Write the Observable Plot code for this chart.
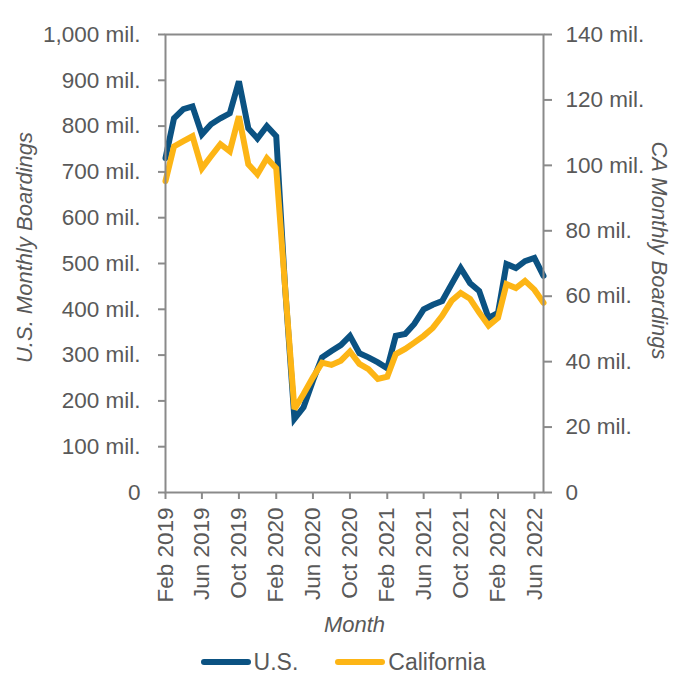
<!DOCTYPE html>
<html><head><meta charset="utf-8">
<script src="https://cdn.jsdelivr.net/npm/d3@7"></script>
<script src="https://cdn.jsdelivr.net/npm/@observablehq/plot@0.6"></script>
<style>
body{margin:0;background:#fff;font-family:"Liberation Sans",Arial,sans-serif;}
#legend{display:flex;justify-content:center;align-items:center;height:30px;margin-top:2px;font-size:23px;color:#595959;}
.item{display:flex;align-items:center;}
.sw{width:50px;height:6px;border-radius:3px;margin-right:3px;}
</style></head><body>
<div id="chart"></div>
<div id="legend"></div>
<script>
// Months Feb 2019 .. Jul 2022 (categories)
const monthLabels = ["2019-02","2019-03","2019-04","2019-05","2019-06","2019-07","2019-08","2019-09","2019-10","2019-11","2019-12",
  "2020-01","2020-02","2020-03","2020-04","2020-05","2020-06","2020-07","2020-08","2020-09","2020-10","2020-11","2020-12",
  "2021-01","2021-02","2021-03","2021-04","2021-05","2021-06","2021-07","2021-08","2021-09","2021-10","2021-11","2021-12",
  "2022-01","2022-02","2022-03","2022-04","2022-05","2022-06","2022-07"];
// U.S. monthly boardings (millions)
const usBoardings = [730,817,837,843,782,804,817,828,898,795,773,
  800,778,450,161,186,244,295,309,322,342,304,295,
  284,271,342,346,368,400,410,418,455,490,457,440,
  381,392,499,490,505,512,473];
// California monthly boardings (millions)
const caBoardings = [95.2,105.8,107.4,108.9,99.1,102.8,106.5,104.3,115.0,100.3,97.3,
  102.2,99.1,63,25.5,30.1,35.2,39.7,39.0,40.3,43.1,39.3,37.7,
  34.7,35.4,42.3,43.9,45.8,47.9,50.3,54.0,58.6,61.0,59.2,55.0,
  51.0,53.4,63.7,62.5,64.7,62.0,58.0];
const leftTicks = [0,100,200,300,400,500,600,700,800,900,1000];
const rightTicks = [0,20,40,60,80,100,120,140];
const xTickLabels = ["2019-02","2019-06","2019-10","2020-02","2020-06","2020-10","2021-02","2021-06","2021-10","2022-02","2022-06"];
const seriesNames = ["U.S.","California"];
const seriesColors = ["#0b5282","#fdb515"];
const leftTitle = "U.S. Monthly Boardings";
const rightTitle = "CA Monthly Boardings";
const xTitle = "Month";

const parse = d3.utcParse("%Y-%m");
const leftMax = 1000, rightMax = 140;
const k = leftMax / rightMax;
const data = monthLabels.map((m, i) => ({date: parse(m), us: usBoardings[i], ca: caBoardings[i] * k}));
const fmt = v => v === 0 ? "0" : d3.format(",")(v) + " mil.";
const axisGray = "#8a8a8a";
const textGray = "#595959";

const chart = Plot.plot({
  width: 686,
  height: 645,
  marginTop: 34,
  marginBottom: 153,
  marginLeft: 165,
  marginRight: 143,
  style: {fontFamily: "'Liberation Sans', Arial, sans-serif", fontSize: "22.5px", color: textGray, background: "#fff"},
  x: {type: "utc", domain: [parse(monthLabels[0]), parse(monthLabels[monthLabels.length - 1])]},
  y: {domain: [0, leftMax]},
  marks: [
    Plot.line(data, {x: "date", y: "us", stroke: seriesColors[0], strokeWidth: 6, strokeLinejoin: "miter", strokeMiterlimit: 3}),
    Plot.line(data, {x: "date", y: "ca", stroke: seriesColors[1], strokeWidth: 6, strokeLinejoin: "miter", strokeMiterlimit: 3}),
    Plot.frame({stroke: axisGray, strokeWidth: 2}),
    Plot.axisY(leftTicks, {anchor: "left", tickSize: 7, tickPadding: 18, tickFormat: fmt, stroke: axisGray, strokeWidth: 2, fill: textGray, label: null}),
    Plot.axisY(rightTicks.map(v => v * k), {anchor: "right", tickSize: 8, tickPadding: 14, tickFormat: d => fmt(Math.round(d / k)), stroke: axisGray, strokeWidth: 2, fill: textGray, label: null}),
    Plot.axisX(xTickLabels.map(parse), {anchor: "bottom", tickSize: 7, tickPadding: 8, tickRotate: -90, tickFormat: d3.utcFormat("%b %Y"), stroke: axisGray, strokeWidth: 2, fill: textGray, label: null}),
    Plot.text([leftTitle], {frameAnchor: "left", dx: -141, dy: -16, rotate: -90, textAnchor: "middle", lineAnchor: "middle", fontStyle: "italic", fill: textGray, fontSize: 22}),
    Plot.text([rightTitle], {frameAnchor: "right", dx: 116, dy: -13, rotate: 90, textAnchor: "middle", lineAnchor: "middle", fontStyle: "italic", fill: textGray, fontSize: 22}),
    Plot.text([xTitle], {frameAnchor: "bottom", dy: 132, textAnchor: "middle", lineAnchor: "middle", fontStyle: "italic", fill: textGray, fontSize: 22})
  ]
});
document.getElementById("chart").appendChild(chart);

const legend = document.getElementById("legend");
seriesNames.forEach((name, i) => {
  const item = document.createElement("div");
  item.className = "item";
  if (i > 0) item.style.marginLeft = "37px";
  const sw = document.createElement("div");
  sw.className = "sw";
  sw.style.background = seriesColors[i];
  const label = document.createElement("span");
  label.textContent = name;
  item.appendChild(sw);
  item.appendChild(label);
  legend.appendChild(item);
});
</script>
</body></html>
